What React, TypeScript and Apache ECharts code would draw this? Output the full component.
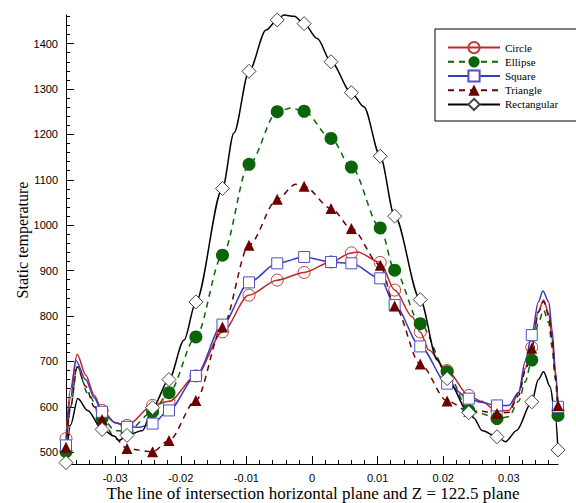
import React, { useEffect, useRef } from "react";
import * as echarts from "echarts";

// shared x positions of the markers
const markerX = [-0.0375, -0.032, -0.0282, -0.0243, -0.0218, -0.0177, -0.01365, -0.0096, -0.0053, -0.0012, 0.0029, 0.006, 0.0104, 0.0126, 0.0165, 0.0206, 0.0239, 0.0282, 0.0335, 0.0375];

const circleY = [530, 592, 559, 603, 612, 668, 765, 846, 879, 896, 919, 939, 918, 857, 765, 680, 625, 591, 731, 592];
const ellipseY = [501, 575, 545, 589, 631, 754, 934, 1134, 1250, 1251, 1191, 1128, 994, 901, 783, 677, 592, 574, 703, 581];
const squareY = [515, 589, 556, 563, 592, 668, 781, 874, 916, 930, 919, 916, 883, 824, 733, 651, 618, 603, 758, 600];
const triangleY = [511, 572, 508, 501, 526, 614, 776, 956, 1057, 1086, 1037, 993, 912, 822, 694, 613, 590, 585, 729, 603];
const rectY = [477, 550, 537, 598, 660, 831, 1081, 1339, 1452, 1444, 1360, 1292, 1152, 1020, 836, 662, 587, 534, 611, 505];

// extra curve points between markers
const circleExtra = [[-0.0368, 640], [-0.0358, 716], [-0.0345, 670], [-0.0332, 625], [-0.03, 565], [0.0069, 941], [0.0153, 798], [0.0178, 725], [0.0258, 612], [0.03, 592], [0.0315, 630], [0.0325, 685], [0.0345, 810], [0.0353, 835], [0.0361, 805], [0.0366, 750], [0.0371, 670]];
const ellipseExtra = [[-0.0368, 600], [-0.0358, 690], [-0.0342, 630], [-0.03, 548], [-0.0032, 1258], [0.0258, 585], [0.03, 578], [0.0315, 612], [0.0325, 655], [0.0345, 785], [0.0353, 813], [0.0361, 785], [0.0366, 730], [0.0371, 660]];
const squareExtra = [[-0.0368, 620], [-0.036, 702], [-0.0345, 660], [-0.0332, 620], [-0.03, 565], [-0.0263, 555], [0.0258, 610], [0.03, 603], [0.0315, 632], [0.0325, 700], [0.0345, 831], [0.0352, 855], [0.0361, 831], [0.0366, 769], [0.0371, 680]];
const triangleExtra = [[-0.0368, 600], [-0.0358, 688], [-0.0345, 645], [-0.0332, 600], [-0.03, 530], [-0.0025, 1090], [0.0258, 590], [0.03, 588], [0.0315, 625], [0.0325, 678], [0.0345, 808], [0.0353, 832], [0.0361, 800], [0.0366, 745], [0.0371, 670]];
const rectExtra = [[-0.0368, 560], [-0.0357, 618], [-0.0342, 592], [-0.0301, 535], [-0.0294, 526], [-0.0258, 548], [-0.0195, 747], [-0.0119, 1203], [-0.007, 1430], [-0.0043, 1463], [-0.0027, 1460], [0.0008, 1411], [0.0079, 1261], [0.0191, 703], [0.0247, 575], [0.0259, 548], [0.0295, 523], [0.0312, 548], [0.0345, 660], [0.0353, 677], [0.0363, 644], [0.0371, 578]];

const seriesNames = ["Circle", "Ellipse", "Square", "Triangle", "Rectangular"];
const xMajor = [-0.03, -0.02, -0.01, 0, 0.01, 0.02, 0.03];
const yMajor = [500, 600, 700, 800, 900, 1000, 1100, 1200, 1300, 1400];

const X_MIN = -0.0375, X_MAX = 0.0375, Y_MIN = 474, Y_MAX = 1463;

function minorBetween(major: number[], step: number, lo: number, hi: number) {
  const out: number[] = [];
  const n = Math.round((hi - lo) / step);
  for (let i = 0; i <= n; i++) {
    const v = +(lo + i * step).toFixed(6);
    if (!major.some((m) => Math.abs(m - v) < step / 10)) out.push(v);
  }
  return out;
}

function build(yArr: number[], extra: number[][]) {
  const pts: any[] = markerX.map((x, i) => ({ value: [x, yArr[i]] }));
  extra.forEach(([x, y]) => pts.push({ value: [x, y], symbol: "none" }));
  pts.sort((a, b) => a.value[0] - b.value[0]);
  return pts;
}

const labelFont = "'Liberation Sans Narrow', 'Arial Narrow', 'Liberation Sans', Arial, sans-serif";
const serif = "'Liberation Serif', 'Times New Roman', serif";

export default function App() {
  const ref = useRef<HTMLDivElement>(null);
  useEffect(() => {
    if (!ref.current) return;
    const chart = echarts.init(ref.current, null, { renderer: "svg" });
    const xMinor = minorBetween(xMajor, 0.002, -0.036, 0.036);
    const yMinor = minorBetween(yMajor, 20, 480, 1460);
    const common = {
      type: "line",
      smooth: 0.3,
      smoothMonotone: "x",
      clip: false,
      silent: true,
      emphasis: { disabled: true },
    };
    const option: any = {
      animation: false,
      backgroundColor: "#fff",
      grid: { left: 66, right: 18, top: 15, bottom: 39, containLabel: false },
      xAxis: [
        {
          type: "value", min: X_MIN, max: X_MAX, position: "bottom",
          axisLine: { show: true, onZero: false, lineStyle: { color: "#000", width: 1 } },
          axisTick: { show: true, inside: true, length: 8, customValues: xMajor, lineStyle: { color: "#000" } },
          axisLabel: {
            show: true, customValues: xMajor, margin: 8, color: "#000", fontSize: 11, fontFamily: labelFont,
            formatter: (v: number) => (Math.abs(v) < 1e-9 ? "0" : v.toFixed(2)),
          },
          splitLine: { show: false },
        },
        {
          type: "value", min: X_MIN, max: X_MAX, position: "bottom",
          axisLine: { show: false, onZero: false },
          axisTick: { show: true, inside: true, length: 4, customValues: xMinor, lineStyle: { color: "#000" } },
          axisLabel: { show: false },
          splitLine: { show: false },
        },
      ],
      yAxis: [
        {
          type: "value", min: Y_MIN, max: Y_MAX, position: "left",
          axisLine: { show: true, onZero: false, lineStyle: { color: "#000", width: 1 } },
          axisTick: { show: true, inside: true, length: 8, customValues: yMajor, lineStyle: { color: "#000" } },
          axisLabel: {
            show: true, customValues: yMajor, margin: 8, color: "#000", fontSize: 11, fontFamily: labelFont,
            formatter: (v: number) => String(Math.round(v)),
          },
          splitLine: { show: false },
        },
        {
          type: "value", min: Y_MIN, max: Y_MAX, position: "left",
          axisLine: { show: false, onZero: false },
          axisTick: { show: true, inside: true, length: 4, customValues: yMinor, lineStyle: { color: "#000" } },
          axisLabel: { show: false },
          splitLine: { show: false },
        },
      ],
      legend: {
        show: true,
        orient: "vertical",
        left: 435,
        top: 29,
        width: 130,
        borderColor: "#000",
        borderWidth: 1,
        padding: [12, 22, 10, 12],
        itemWidth: 52,
        itemHeight: 14,
        itemGap: 2,
        backgroundColor: "#fff",
        textStyle: { fontFamily: serif, fontSize: 11, color: "#000" },
        data: seriesNames,
        selectedMode: false,
      },
      graphic: [
        {
          type: "text", x: 22, y: 240, rotation: Math.PI / 2,
          style: { text: "Static temperature", font: `16px ${serif}`, fill: "#000", align: "center", verticalAlign: "middle" },
        },
        {
          type: "text", x: 313, y: 493,
          style: { text: "The line of intersection horizontal plane and Z = 122.5 plane", font: `17px ${serif}`, fill: "#000", align: "center", verticalAlign: "middle" },
        },
      ],
      series: [
        {
          ...common, name: seriesNames[0], data: build(circleY, circleExtra),
          symbol: "circle", symbolSize: 12, color: "#c0262a",
          lineStyle: { color: "#c0262a", width: 1.5 },
          itemStyle: { color: "rgba(255,255,255,0)", borderColor: "#b8403a", borderWidth: 1 },
        },
        {
          ...common, name: seriesNames[1], data: build(ellipseY, ellipseExtra),
          symbol: "circle", symbolSize: 13, color: "#0a640a",
          lineStyle: { color: "#0a640a", width: 1.5, type: [6, 5] },
          itemStyle: { color: "#0a640a" },
        },
        {
          ...common, name: seriesNames[2], data: build(squareY, squareExtra),
          symbol: "rect", symbolSize: 11, color: "#3a3ac0",
          lineStyle: { color: "#3a3ac0", width: 1.5 },
          itemStyle: { color: "#fff", borderColor: "#5050c8", borderWidth: 1 },
        },
        {
          ...common, name: seriesNames[3], data: build(triangleY, triangleExtra),
          symbol: "triangle", symbolSize: 11, color: "#6b0000",
          lineStyle: { color: "#6b0000", width: 1.5, type: [6, 5] },
          itemStyle: { color: "#6b0000" },
        },
        {
          ...common, name: seriesNames[4], data: build(rectY, rectExtra),
          symbol: "diamond", symbolSize: 14, color: "#000",
          lineStyle: { color: "#000", width: 1.5 },
          itemStyle: { color: "#fff", borderColor: "#444", borderWidth: 1 },
        },
      ],
    };
    chart.setOption(option);
    return () => chart.dispose();
  }, []);
  return <div ref={ref} style={{ position: "fixed", left: 0, top: 0, width: 576, height: 503 }} />;
}
